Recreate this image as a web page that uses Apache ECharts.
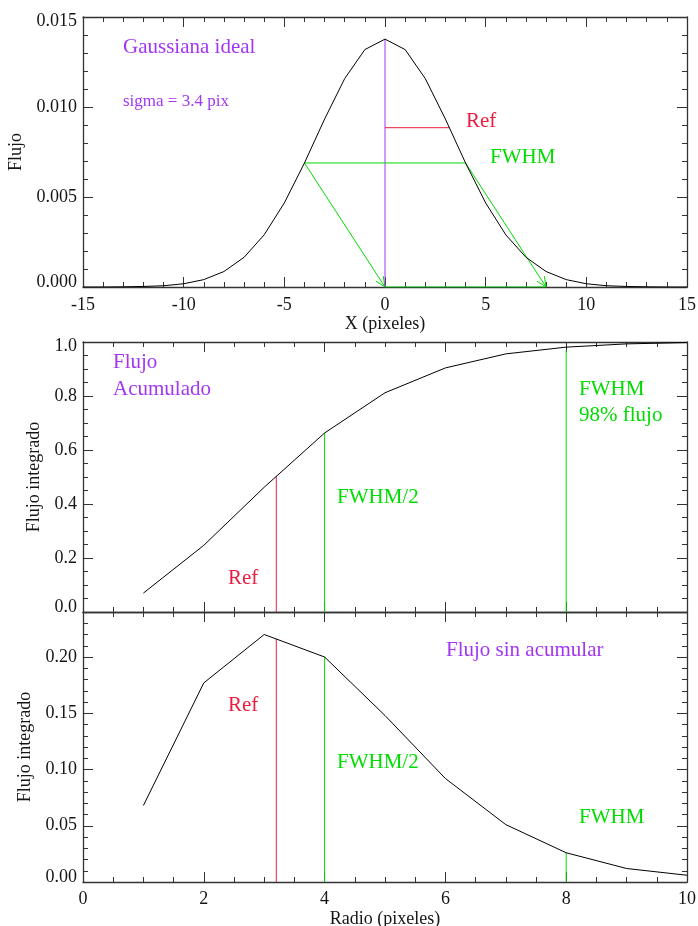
<!DOCTYPE html>
<html><head><meta charset="utf-8">
<script src="https://cdn.jsdelivr.net/npm/echarts@6/dist/echarts.min.js"></script>
<style>html,body{margin:0;padding:0;background:#fff}#c{width:698px;height:926px}</style>
</head><body><div id="c"></div>
<script>
// ---------- data ----------
const gaussX = [-15,-14,-13,-12,-11,-10,-9,-8,-7,-6,-5,-4,-3,-2,-1,0,1,2,3,4,5,6,7,8,9,10,11,12,13,14,15];
const gaussY = [0,0,0.00001,0.00003,0.00007,0.00018,0.00041,0.00086,0.00165,0.00290,0.00467,0.00689,0.00933,0.01158,0.01319,0.01377,0.01319,0.01158,0.00933,0.00689,0.00467,0.00290,0.00165,0.00086,0.00041,0.00018,0.00007,0.00003,0.00001,0,0];
const radio = [1,2,3,4,5,6,7,8,9,10];
const acumulado = [0.070,0.247,0.462,0.663,0.812,0.904,0.956,0.981,0.993,0.998];
const sinAcumular = [0.068,0.177,0.220,0.200,0.148,0.092,0.051,0.026,0.012,0.006];
// annotation values
const peak = 0.01377, halfMax = 0.00689, refLevel = 0.00885;
const refX = 3.2, fwhmHalfX = 4, fwhmX = 8;
const acumTops = {ref: 0.503, half: 0.663, fwhm: 0.97};
const sinTops = {ref: 0.216, half: 0.200, fwhm: 0.026};
const topYTicks = [0, 0.015, 0.005, 0.001];
const midYTicks = [0, 1.0, 0.2, 0.05];
const botYTicks = [0, 0.24, 0.05, 0.01];

// ---------- style ----------
const FONT = 'Liberation Serif';
const PURPLE = '#a236f4', RED = '#ec1c3e', GREEN = '#00dc00', INK = '#151515';

const grids = [
  {left: 83, top: 17, width: 604, height: 270},
  {left: 83, top: 342, width: 604, height: 270},
  {left: 83, top: 612, width: 604, height: 270}
].map(g => Object.assign(g, {containLabel: false, outerBoundsMode: 'none'}));

const xAxes = [], yAxes = [];
function addAxes(list, dim, gi, r, o) {
  const [min, max, major, minor] = r;
  const pos = dim === 'x' ? ['bottom', 'top'] : ['left', 'right'];
  const main = list.length;
  pos.forEach((p, k) => {
    const labelled = k === 0 && o.labels;
    list.push({
      type: 'value', gridIndex: gi, position: p, min, max, interval: major,
      axisLine: {show: true, onZero: false, lineStyle: {color: '#333', width: 1.3}},
      axisTick: {show: true, inside: true, length: 10, lineStyle: {color: '#333', width: 1}},
      minorTick: {show: false}, splitLine: {show: false},
      axisLabel: labelled ? {
        show: true, fontFamily: FONT, fontSize: 18, color: INK, margin: o.margin,
        lineHeight: dim === 'y' ? 9 : 18,
        formatter: o.fmt, showMaxLabel: o.showMax !== false, showMinLabel: true,
        verticalAlignMaxLabel: o.vmax, verticalAlignMinLabel: o.vmin
      } : {show: false},
      name: k === 0 ? o.name : '', nameLocation: 'middle', nameGap: o.nameGap,
      nameTextStyle: {fontFamily: FONT, fontSize: 18, color: INK}
    });
    list.push({
      type: 'value', gridIndex: gi, position: p, min, max, interval: minor,
      axisLine: {show: false, onZero: false},
      axisTick: {show: true, inside: true, length: 5, lineStyle: {color: '#333', width: 1}},
      axisLabel: {show: false}, splitLine: {show: false}
    });
  });
  return main;
}
const xi = [], yi = [];
xi.push(addAxes(xAxes, 'x', 0, [-15, 15, 5, 1], {labels: true, margin: 9, fmt: v => String(v), name: 'X (pixeles)', nameGap: 27}));
yi.push(addAxes(yAxes, 'y', 0, topYTicks, {labels: true, margin: 6, fmt: v => v.toFixed(3), name: 'Flujo', nameGap: 56, vmax: 'top', vmin: 'bottom'}));
xi.push(addAxes(xAxes, 'x', 1, [0, 10, 2, 0.5], {labels: false, name: ''}));
yi.push(addAxes(yAxes, 'y', 1, midYTicks, {labels: true, margin: 6, fmt: v => v.toFixed(1), name: 'Flujo integrado', nameGap: 38, vmax: 'top', vmin: 'bottom'}));
xi.push(addAxes(xAxes, 'x', 2, [0, 10, 2, 0.5], {labels: true, margin: 8, fmt: v => String(v), name: 'Radio (pixeles)', nameGap: 28}));
yi.push(addAxes(yAxes, 'y', 2, botYTicks, {labels: true, margin: 6, fmt: v => v.toFixed(2), name: 'Flujo integrado', nameGap: 48, showMax: false, vmin: 'bottom'}));

function seg(g, pts, color) {
  return {type: 'line', xAxisIndex: xi[g], yAxisIndex: yi[g], data: pts, showSymbol: false, symbol: 'none',
    silent: true, animation: false, lineStyle: {color, width: 1}, z: 3};
}
function curve(g, xs, ys) {
  return {type: 'line', xAxisIndex: xi[g], yAxisIndex: yi[g], data: xs.map((x, i) => [x, ys[i]]),
    showSymbol: false, symbol: 'none', silent: true, animation: false, lineStyle: {color: '#000', width: 1}, z: 4};
}
const arrows = {
  type: 'custom', xAxisIndex: xi[0], yAxisIndex: yi[0], silent: true, animation: false, z: 3,
  encode: {x: [0, 2], y: [1, 3]},
  data: [[-4, halfMax, 0, 0], [4, halfMax, fwhmX, 0]],
  renderItem(params, api) {
    const p1 = api.coord([api.value(0), api.value(1)]);
    const p2 = api.coord([api.value(2), api.value(3)]);
    const ang = Math.atan2(p2[1] - p1[1], p2[0] - p1[0]);
    const L = 11, a = Math.PI / 7.5;
    const h1 = [p2[0] - L * Math.cos(ang - a), p2[1] - L * Math.sin(ang - a)];
    const h2 = [p2[0] - L * Math.cos(ang + a), p2[1] - L * Math.sin(ang + a)];
    return {type: 'group', children: [
      {type: 'line', shape: {x1: p1[0], y1: p1[1], x2: p2[0], y2: p2[1]}, style: {stroke: GREEN, lineWidth: 1}},
      {type: 'polyline', shape: {points: [h1, p2, h2]}, style: {stroke: GREEN, fill: null, lineWidth: 1}}
    ]};
  }
};

const series = [
  seg(0, [[0, 0], [0, peak]], PURPLE),
  seg(0, [[0, refLevel], [refX, refLevel]], RED),
  seg(0, [[-4, halfMax], [4, halfMax]], GREEN),
  seg(0, [[0, 0], [fwhmX, 0]], GREEN),
  arrows,
  curve(0, gaussX, gaussY),
  seg(1, [[refX, 0], [refX, acumTops.ref]], RED),
  seg(1, [[fwhmHalfX, 0], [fwhmHalfX, acumTops.half]], GREEN),
  seg(1, [[fwhmX, 0], [fwhmX, acumTops.fwhm]], GREEN),
  curve(1, radio, acumulado),
  seg(2, [[refX, 0], [refX, sinTops.ref]], RED),
  seg(2, [[fwhmHalfX, 0], [fwhmHalfX, sinTops.half]], GREEN),
  seg(2, [[fwhmX, 0], [fwhmX, sinTops.fwhm]], GREEN),
  curve(2, radio, sinAcumular)
];

function txt(s, x, y, color, size) {
  return {type: 'text', x, y, silent: true, z: 10,
    style: {text: s, fill: color, font: size + 'px "' + FONT + '"', align: 'left', verticalAlign: 'middle'}};
}
const graphic = [
  txt('Gaussiana ideal', 123, 47, PURPLE, 21),
  txt('sigma = 3.4 pix', 123, 102, PURPLE, 17),
  txt('Ref', 466, 121, RED, 21),
  txt('FWHM', 490, 157, GREEN, 21),
  txt('Flujo', 113, 362, PURPLE, 21),
  txt('Acumulado', 113, 389, PURPLE, 21),
  txt('Ref', 228, 578, RED, 21),
  txt('FWHM/2', 337, 497, GREEN, 21),
  txt('FWHM', 579, 389, GREEN, 21),
  txt('98% flujo', 579, 415, GREEN, 21),
  txt('Ref', 228, 705, RED, 21),
  txt('FWHM/2', 337, 762, GREEN, 21),
  txt('Flujo sin acumular', 446, 650, PURPLE, 21),
  txt('FWHM', 579, 817, GREEN, 21)
];

const chart = echarts.init(document.getElementById('c'), null, {renderer: 'canvas'});
chart.setOption({
  animation: false, backgroundColor: '#fff',
  grid: grids, xAxis: xAxes, yAxis: yAxes, series, graphic
});
</script></body></html>
